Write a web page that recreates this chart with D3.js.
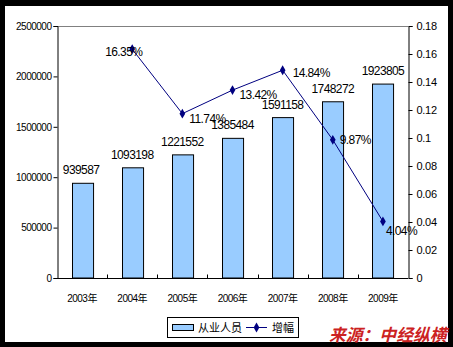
<!DOCTYPE html>
<html><head><meta charset="utf-8">
<script src="https://cdn.jsdelivr.net/npm/d3@7"></script>
<style>
html,body{margin:0;padding:0;background:#000;}
svg{display:block;}
text{font-family:"Liberation Sans",Arial,"Noto Sans CJK SC",sans-serif;}
</style></head>
<body>
<script>
const categories = ["2003年","2004年","2005年","2006年","2007年","2008年","2009年"];
const employees = [939587,1093198,1221552,1385484,1591158,1748272,1923805];
const growthYears = ["2004年","2005年","2006年","2007年","2008年","2009年"];
const growth = [0.1635,0.1174,0.1342,0.1484,0.0987,0.0404];
const growthLabels = ["16.35%","11.74%","13.42%","14.84%","9.87%","4.04%"];
const leftTicks = [0,500000,1000000,1500000,2000000,2500000];
const rightTicks = [0,0.02,0.04,0.06,0.08,0.1,0.12,0.14,0.16,0.18];
const legendLabels = ["从业人员","增幅"];
const sourceText = "来源：中经纵横";

const W=453,H=347;
const svg=d3.select("body").append("svg").attr("width",W).attr("height",H);
svg.append("rect").attr("x",0).attr("y",0).attr("width",W).attr("height",H).attr("fill","#000");
svg.append("rect").attr("x",5).attr("y",6).attr("width",443).attr("height",336).attr("fill","#fff");

const L=57,R=408,T=26,B=278;
const x=d3.scaleBand().domain(categories).range([L,R]).paddingInner(0.58).paddingOuter(0.29);
const xs=d3.scaleBand().domain(categories).range([L,R]);
const yL=d3.scaleLinear().domain([0,2500000]).range([B,T]);
const yR=d3.scaleLinear().domain([0,0.18]).range([B,T]);

// top border line
svg.append("line").attr("x1",L).attr("x2",R).attr("y1",T+0.5).attr("y2",T+0.5).attr("stroke","#808080");

// bars
svg.selectAll("rect.bar").data(employees).enter().append("rect").attr("class","bar")
 .attr("x",(d,i)=>Math.round(x(categories[i]))+0.5).attr("width",x.bandwidth())
 .attr("y",d=>yL(d)).attr("height",d=>B-yL(d))
 .attr("fill","#99CCFF").attr("stroke","#000").attr("stroke-width",1);

// left axis
const gl=svg.append("g").attr("transform",`translate(${L+0.5},0)`)
 .call(d3.axisLeft(yL).tickValues(leftTicks).tickSize(4).tickFormat(d3.format("d")));
gl.select(".domain").attr("stroke","#000");
gl.selectAll("text").attr("font-size","10px").attr("letter-spacing","-0.5px").attr("fill","#000").attr("x",-6);

// right axis
const gr=svg.append("g").attr("transform",`translate(${R+0.5},0)`)
 .call(d3.axisRight(yR).tickValues(rightTicks).tickSize(4).tickFormat(d=>d===0?"0":String(+d.toFixed(2))));
gr.select(".domain").attr("stroke","#000");
gr.selectAll("text").attr("font-size","11px").attr("letter-spacing","-0.3px").attr("fill","#000").attr("x",8);

// x axis
const gx=svg.append("g").attr("transform",`translate(0,${B+0.5})`);
gx.append("line").attr("x1",L).attr("x2",R).attr("stroke","#000");
gx.selectAll("line.t").data(categories.slice(1)).enter().append("line")
 .attr("x1",d=>Math.round(xs(d))+0.5).attr("x2",d=>Math.round(xs(d))+0.5).attr("y1",0).attr("y2",-4).attr("stroke","#000");
gx.selectAll("text").data(categories).enter().append("text")
 .attr("x",d=>xs(d)+xs.bandwidth()/2).attr("y",23).attr("text-anchor","middle")
 .attr("font-size","10px").attr("letter-spacing","-0.5px").text(d=>d);

// bar labels
svg.selectAll("text.bl").data(employees).enter().append("text").attr("class","bl")
 .attr("x",(d,i)=>x(categories[i])+x.bandwidth()/2+ (i===0?-1:0)).attr("y",d=>yL(d)-9)
 .attr("text-anchor","middle").attr("font-size","12px").attr("letter-spacing","-0.6px").text(d=>d);

// line
const cx=d=>xs(d)+xs.bandwidth()/2;
const line=d3.line().x((d,i)=>cx(growthYears[i])).y(d=>yR(d));
svg.append("path").datum(growth).attr("d",line).attr("fill","none").attr("stroke","#000080").attr("stroke-width",1);
const diamond=d3.symbol().type(d3.symbolDiamond).size(28);
svg.selectAll("path.pt").data(growth).enter().append("path")
 .attr("transform",(d,i)=>`translate(${cx(growthYears[i])},${yR(d)})`).attr("d",diamond).attr("fill","#000080");

// growth labels (offsets relative to points)
const offs=[[-27,7],[7,9],[7,9],[10,7],[7,4],[3,14]];
svg.selectAll("text.gl").data(growth).enter().append("text")
 .attr("x",(d,i)=>cx(growthYears[i])+offs[i][0]).attr("y",(d,i)=>yR(d)+offs[i][1])
 .attr("font-size","12px").attr("letter-spacing","-0.6px").text((d,i)=>growthLabels[i]);

// legend
const lg=svg.append("g");
lg.append("rect").attr("x",167.5).attr("y",317.5).attr("width",131).attr("height",20).attr("fill","#fff").attr("stroke","#000");
lg.append("rect").attr("x",172.5).attr("y",324.5).attr("width",21).attr("height",6).attr("fill","#99CCFF").attr("stroke","#000");
lg.append("text").attr("x",198).attr("y",332).attr("font-size","11px").text(legendLabels[0]);
lg.append("line").attr("x1",246).attr("x2",267).attr("y1",327.5).attr("y2",327.5).attr("stroke","#000080");
lg.append("path").attr("transform","translate(256.5,327.5)").attr("d",diamond).attr("fill","#000080");
lg.append("text").attr("x",272).attr("y",332).attr("font-size","11px").text(legendLabels[1]);

// source
svg.append("text").attr("x",329).attr("y",341).attr("font-size","16.8px").attr("font-weight","bold")
 .attr("font-style","italic").attr("fill","#CC2222").attr("font-family","'Noto Sans CJK SC',sans-serif").text(sourceText);
</script>
</body></html>
